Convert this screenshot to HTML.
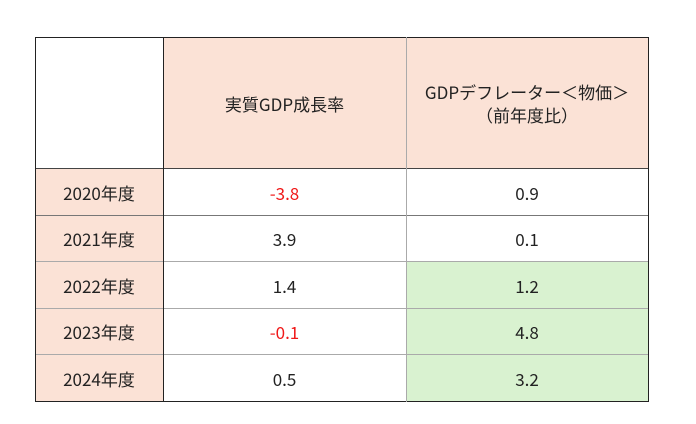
<!DOCTYPE html>
<html><head><meta charset="utf-8"><style>
body{margin:0;width:696px;height:424px;background:#fff;position:relative;font-family:"Noto Sans CJK JP","Liberation Sans",sans-serif;font-size:17px;color:#222;overflow:hidden}
.c{position:absolute;display:flex;align-items:center;justify-content:center;text-align:center;line-height:23px}
.h{position:absolute}
.v{position:absolute}
</style></head><body>
<div class="c" style="left:35px;top:37px;width:128px;height:132px;background:#fff"></div>
<div class="c" style="left:163px;top:37px;width:243px;height:132px;background:#fbe2d6">実質GDP成長率</div>
<div class="c" style="left:406px;top:37px;width:242px;height:132px;background:#fbe2d6">GDPデフレーター＜物価＞<br>（前年度比）</div>

<div class="c" style="left:35px;top:169px;width:128px;height:46px;background:#fbe2d6">2020年度</div>
<div class="c" style="left:163px;top:169px;width:243px;height:46px;color:#f01818">-3.8</div>
<div class="c" style="left:406px;top:169px;width:242px;height:46px">0.9</div>

<div class="c" style="left:35px;top:215px;width:128px;height:47px;background:#fbe2d6">2021年度</div>
<div class="c" style="left:163px;top:215px;width:243px;height:47px">3.9</div>
<div class="c" style="left:406px;top:215px;width:242px;height:47px">0.1</div>

<div class="c" style="left:35px;top:262px;width:128px;height:46px;background:#fbe2d6">2022年度</div>
<div class="c" style="left:163px;top:262px;width:243px;height:46px">1.4</div>
<div class="c" style="left:406px;top:262px;width:242px;height:46px;background:#d9f2d0">1.2</div>

<div class="c" style="left:35px;top:308px;width:128px;height:47px;background:#fbe2d6">2023年度</div>
<div class="c" style="left:163px;top:308px;width:243px;height:47px;color:#f01818">-0.1</div>
<div class="c" style="left:406px;top:308px;width:242px;height:47px;background:#d9f2d0">4.8</div>

<div class="c" style="left:35px;top:355px;width:128px;height:47px;background:#fbe2d6">2024年度</div>
<div class="c" style="left:163px;top:355px;width:243px;height:47px">0.5</div>
<div class="c" style="left:406px;top:355px;width:242px;height:47px;background:#d9f2d0">3.2</div>

<div class="h" style="left:35px;top:37px;width:614px;height:1px;background:#222"></div>
<div class="h" style="left:35px;top:168px;width:614px;height:1px;background:#444"></div>
<div class="h" style="left:35px;top:215px;width:614px;height:1px;background:#777"></div>
<div class="h" style="left:35px;top:261px;width:614px;height:1px;background:#aaa"></div>
<div class="h" style="left:35px;top:308px;width:614px;height:1px;background:#aaa"></div>
<div class="h" style="left:35px;top:354px;width:614px;height:1px;background:#aaa"></div>
<div class="h" style="left:35px;top:401px;width:614px;height:1px;background:#222"></div>
<div class="v" style="left:35px;top:37px;width:1px;height:365px;background:#222"></div>
<div class="v" style="left:163px;top:37px;width:1px;height:365px;background:#222"></div>
<div class="v" style="left:406px;top:37px;width:1px;height:365px;background:#aaa"></div>
<div class="v" style="left:648px;top:37px;width:1px;height:365px;background:#222"></div>
</body></html>
